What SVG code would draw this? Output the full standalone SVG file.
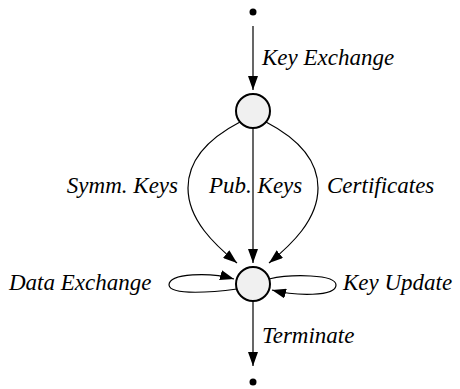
<svg xmlns="http://www.w3.org/2000/svg" width="460" height="389" viewBox="0 0 460 389">
<g id="labels">
<text x="262" y="65" font-family="Liberation Serif" font-style="italic" font-size="23">Key Exchange</text>
<text x="178" y="193" text-anchor="end" font-family="Liberation Serif" font-style="italic" font-size="23">Symm. Keys</text>
<text x="209" y="193" font-family="Liberation Serif" font-style="italic" font-size="23">Pub. Keys</text>
<text x="327" y="193" font-family="Liberation Serif" font-style="italic" font-size="23">Certificates</text>
<text x="9" y="290" font-family="Liberation Serif" font-style="italic" font-size="23">Data Exchange</text>
<text x="343" y="290" font-family="Liberation Serif" font-style="italic" font-size="23">Key Update</text>
<text x="262" y="343" font-family="Liberation Serif" font-style="italic" font-size="23">Terminate</text>
</g>
<defs>
<marker id="ahb" viewBox="0 0 14 10" refX="14" refY="5" markerWidth="14" markerHeight="10" markerUnits="userSpaceOnUse" orient="auto">
<path d="M0,0 L14,5 L0,10 z" fill="#000"/>
</marker>
</defs>
<g id="start"><circle cx="253" cy="12" r="3.5" fill="#000"/></g>
<g id="s1"><circle cx="253" cy="111" r="17" fill="#f0f0f0" stroke="#000" stroke-width="2"/></g>
<g id="s2"><circle cx="253" cy="284" r="17" fill="#f0f0f0" stroke="#000" stroke-width="2"/></g>
<g id="end"><circle cx="253" cy="382" r="3.5" fill="#000"/></g>
<g id="edges" fill="none" stroke="#000" stroke-width="1.2" marker-end="url(#ahb)">
<path d="M253,26 L253,90"/>
<path d="M240,122 C215,135 188,155 188,188 C188,220 215,245 237,263"/>
<path d="M253,128 L253,263"/>
<path d="M266,122 C291,135 318,155 318,188 C318,220 291,245 269,263"/>
<path d="M237,289 C215,292 170,296 169,285 C169,273 210,272 234,279"/>
<path d="M269,279 C291,274 336,274 336,285 C336,297 295,296 272,290"/>
<path d="M253,301 L253,366"/>
</g>
</svg>
